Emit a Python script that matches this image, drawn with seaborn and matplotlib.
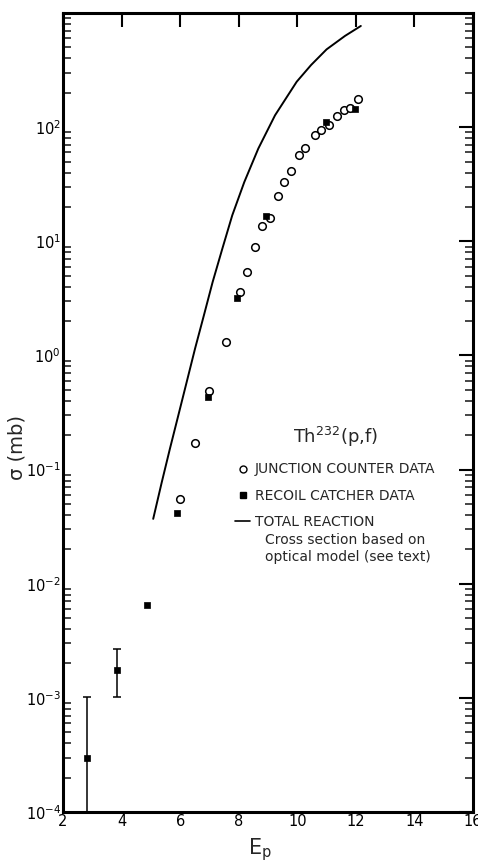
import matplotlib
matplotlib.use("Agg")
import matplotlib.pyplot as plt
import seaborn as sns
import numpy as np
import pandas as pd
from matplotlib.ticker import LogLocator, FixedLocator, NullFormatter
from matplotlib.lines import Line2D

# ---------------- data ----------------
junction_E = [5.99, 6.52, 7.00, 7.55, 8.04, 8.28, 8.56, 8.78, 9.07, 9.33,
              9.56, 9.80, 10.05, 10.27, 10.61, 10.82, 11.09, 11.34, 11.59, 11.80, 12.08]
junction_sigma = [0.055, 0.170, 0.486, 1.30, 3.6, 5.4, 9.0, 13.5, 15.9, 25,
                  33, 41, 57, 65, 86, 94, 104, 125, 141, 148, 175]

recoil_E = [2.81, 3.83, 4.86, 5.90, 6.95, 7.94, 8.93, 10.97, 11.97]
recoil_sigma = [0.000298, 0.00175, 0.0065, 0.042, 0.43, 3.2, 16.6, 112, 144]
recoil_err_low = [0.00001, 0.00102, None, None, None, None, None, None, None]
recoil_err_high = [0.00101, 0.00267, None, None, None, None, None, None, None]

total_E = [5.08, 5.37, 5.65, 5.94, 6.22, 6.51, 6.81, 7.11, 7.44, 7.78,
           8.19, 8.67, 9.24, 9.98, 10.47, 11.00, 11.63, 12.17]
total_sigma = [0.037, 0.077, 0.152, 0.30, 0.58, 1.15, 2.24, 4.4, 8.6, 16.9,
               33, 65, 127, 250, 350, 480, 630, 770]

x_ticks = [2, 4, 6, 8, 10, 12, 14, 16]
y_ticks = [1e-4, 1e-3, 1e-2, 1e-1, 1e0, 1e1, 1e2]

# ---------------- figure ----------------
sns.set_style("white")
plt.rcParams['font.family'] = ['DejaVu Sans']
plt.rcParams['mathtext.fontset'] = 'dejavusans'

fig = plt.figure(figsize=(4.78, 8.64), dpi=100)
ax = fig.add_axes([63/478, 52/864, 410/478, 799/864])

dfj = pd.DataFrame({"E": junction_E, "s": junction_sigma})
dfr = pd.DataFrame({"E": recoil_E, "s": recoil_sigma,
                    "lo": recoil_err_low, "hi": recoil_err_high})
dft = pd.DataFrame({"E": total_E, "s": total_sigma})

sns.lineplot(data=dft, x="E", y="s", ax=ax, color="black", lw=1.4,
             sort=False, estimator=None)
sns.scatterplot(data=dfj, x="E", y="s", ax=ax, marker="o", s=30,
                facecolor="white", edgecolor="black", linewidth=1.1, zorder=3)
sns.scatterplot(data=dfr, x="E", y="s", ax=ax, marker="s", s=22,
                color="black", edgecolor="black", linewidth=0.5, zorder=4)

err = dfr.dropna()
ax.errorbar(err["E"], err["s"],
            yerr=[err["s"] - err["lo"].astype(float), err["hi"].astype(float) - err["s"]],
            fmt="none", ecolor="black", elinewidth=1.1, capsize=3, capthick=1.1, zorder=2)

ax.set_yscale("log")
ax.set_xlim(2, 16)
ax.set_ylim(1e-4, 1e3)

ax.xaxis.set_major_locator(FixedLocator(x_ticks))
ax.yaxis.set_major_locator(FixedLocator(y_ticks))
ax.yaxis.set_minor_locator(LogLocator(base=10, subs=np.arange(2, 10), numticks=20))
ax.yaxis.set_minor_formatter(NullFormatter())

for sp in ax.spines.values():
    sp.set_linewidth(2.2)
    sp.set_color("black")

ax.tick_params(axis="both", which="major", direction="in", length=10, width=1.5,
               top=True, right=True, labelsize=10.5, colors="black")
ax.tick_params(axis="x", which="major", pad=1.5)
ax.tick_params(axis="y", which="major", pad=1.5)
ax.tick_params(axis="y", which="minor", direction="in", length=6, width=1.2,
               left=True, right=True)

ax.set_xlabel("E$_{\\mathrm{p}}$", fontsize=15)
ax.xaxis.set_label_coords(0.48, -0.030)
ax.set_ylabel("σ (mb)", fontsize=14)
ax.yaxis.set_label_coords(-0.09, 0.456)

handles = [
    Line2D([], [], marker="o", ls="none", mfc="white", mec="black", ms=5, mew=1.0),
    Line2D([], [], marker="s", ls="none", mfc="black", mec="black", ms=4.5),
    Line2D([], [], color="black", lw=1.2),
]
labels = ["JUNCTION COUNTER DATA", "RECOIL CATCHER DATA", "TOTAL REACTION"]
leg = ax.legend(handles, labels, loc="upper left", bbox_to_anchor=(0.42, 0.485),
                frameon=False, fontsize=10, handlelength=1.1, handletextpad=0.3,
                labelspacing=0.88, borderpad=0, borderaxespad=0,
                title="Th$^{232}$(p,f)", title_fontsize=13)
leg._legend_box.sep = 10

ax.text(0.493, 0.330, "Cross section based on\noptical model (see text)",
        transform=ax.transAxes, fontsize=10, va="center", ha="left",
        linespacing=1.3)

fig.savefig("out.png", dpi=100)
